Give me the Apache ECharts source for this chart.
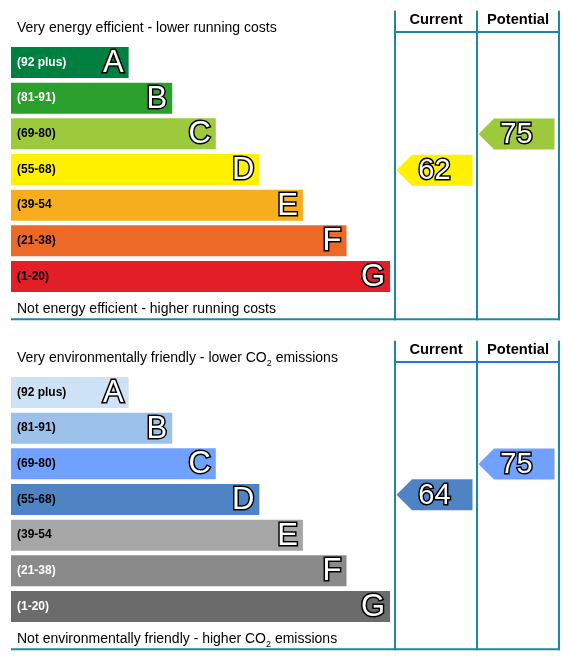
<!DOCTYPE html>
<html>
<head>
<meta charset="utf-8">
<title>Energy Efficiency Rating</title>
<script src="https://cdn.jsdelivr.net/npm/echarts@6/dist/echarts.min.js"></script>
<style>
    html, body { margin: 0; padding: 0; background: #fff; }
    #chart { width: 570px; height: 661px; }
</style>
</head>
<body>
<div id="chart"></div>
<script>
// bands, shared by both charts
var bands = ['A', 'B', 'C', 'D', 'E', 'F', 'G'];
var bandRanges = ['(92 plus)', '(81-91)', '(69-80)', '(55-68)', '(39-54', '(21-38)', '(1-20)'];
var bandMin = [92, 81, 69, 55, 39, 21, 1];
var bandLength = [27, 37, 47, 57, 67, 77, 87];
var columns = ['Current', 'Potential'];

// energy efficiency rating
var energyColors = ['#008040', '#2b9f2c', '#9cca3c', '#fff100', '#f6ae1f', '#ec6a25', '#e21e26'];
var energyTextColors = ['#fff', '#fff', '#000', '#000', '#000', '#000', '#000'];
var energyRatings = [62, 75];

// environmental impact (CO2) rating
var envColors = ['#cde2f5', '#9cc2ec', '#70a1fe', '#4f84c4', '#a6a6a6', '#8a8a8a', '#6b6b6b'];
var envTextColors = ['#000', '#000', '#000', '#000', '#000', '#fff', '#fff'];
var envRatings = [64, 75];

var titles = [
    ['Very energy efficient - lower running costs', 'Not energy efficient - higher running costs'],
    ['{n|Very environmentally friendly - lower CO}{s|2}{n| emissions}',
     '{n|Not environmentally friendly - higher CO}{s|2}{n| emissions}']
];

var FONT = 'Liberation Sans, Arial, Helvetica, sans-serif';
var FRAME = '#1d87a3';
var TOPS = [44.67, 374.67];
var H = 249.67;

function bandOf(r) {
    for (var i = 0; i < bandMin.length; i++) {
        if (r >= bandMin[i]) return i;
    }
    return bandMin.length - 1;
}

function arrowRenderer(colors) {
    return function (params, api) {
        var c = api.coord([api.value(0), api.value(1)]);
        var colW = api.size([1, 0])[0];
        var h = 31;
        var left = c[0] - colW / 2 + 1.5, right = left + 76;
        var top = c[1] - h / 2, bottom = c[1] + h / 2;
        return {
            type: 'group',
            children: [{
                type: 'polygon',
                shape: { points: [[left, c[1]], [left + h / 2, top], [right, top], [right, bottom], [left + h / 2, bottom]] },
                style: { fill: colors[bandOf(api.value(1))] }
            }, {
                type: 'text',
                style: {
                    text: String(api.value(1)), x: (left + right) / 2, y: c[1] + 1,
                    align: 'center', verticalAlign: 'middle',
                    fontSize: 29, fontFamily: FONT, fill: '#fff',
                    stroke: '#000', lineWidth: 3, strokeFirst: true
                },
                z2: 10
            }]
        };
    };
}

var grid = [], xAxis = [], yAxis = [], series = [], graphic = [];

[[energyColors, energyTextColors, energyRatings], [envColors, envTextColors, envRatings]].forEach(function (set, i) {
    var colors = set[0], textColors = set[1], ratings = set[2];
    var top = TOPS[i];
    var g0 = 2 * i, g1 = 2 * i + 1;

    grid.push({ left: 11, top: top, width: 549, height: H });
    grid.push({ left: 395, top: top, width: 164, height: H });

    xAxis.push({ gridIndex: g0, type: 'value', min: 0, max: 126, show: false });
    yAxis.push({ gridIndex: g0, type: 'category', data: bands, inverse: true, show: false });

    xAxis.push({
        gridIndex: g1, type: 'category', data: columns, position: 'top', offset: 12.67,
        axisLine: { show: false }, axisTick: { show: false }, splitLine: { show: false },
        axisLabel: { margin: 5, fontFamily: FONT, fontSize: 14.7, fontWeight: 'bold', color: '#000' }
    });
    yAxis.push({ gridIndex: g1, type: 'value', min: 17.35, max: 107.16, show: false });

    series.push({
        type: 'bar', xAxisIndex: g0, yAxisIndex: g0, barCategoryGap: '13%', silent: true,
        data: bandLength.map(function (v, k) {
            return { value: v, itemStyle: { color: colors[k] }, label: { color: textColors[k] } };
        }),
        label: {
            show: true, position: 'insideLeft', distance: 6,
            fontFamily: FONT, fontSize: 12, fontWeight: 'bold',
            formatter: function (p) { return bandRanges[p.dataIndex]; }
        }
    });
    series.push({
        type: 'bar', xAxisIndex: g0, yAxisIndex: g0, barCategoryGap: '13%', barGap: '-100%', silent: true,
        data: bandLength,
        itemStyle: { color: 'rgba(0,0,0,0)' },
        label: {
            show: true, position: 'insideRight', distance: 5, offset: [0, 1],
            fontFamily: FONT, fontSize: 31, color: '#fff',
            textBorderColor: '#000', textBorderWidth: 3,
            formatter: function (p) { return bands[p.dataIndex]; }
        }
    });
    series.push({
        type: 'custom', xAxisIndex: g1, yAxisIndex: g1, clip: false, silent: true,
        renderItem: arrowRenderer(colors),
        data: ratings.map(function (r, k) { return [k, r]; })
    });

    // frame
    var lineStyle = { stroke: FRAME, lineWidth: 2 };
    [395, 477, 559].forEach(function (x) {
        graphic.push({ type: 'line', shape: { x1: x, y1: top - 34, x2: x, y2: top + 275.6 }, style: lineStyle });
    });
    graphic.push({ type: 'line', shape: { x1: 395, y1: top - 12.67, x2: 559, y2: top - 12.67 }, style: lineStyle });
    graphic.push({ type: 'line', shape: { x1: 11, y1: top + 274.6, x2: 560, y2: top + 274.6 }, style: lineStyle });

    // captions
    var rich = {
        n: { fontFamily: FONT, fontSize: 14, color: '#000', lineHeight: 20 },
        s: { fontFamily: FONT, fontSize: 9, color: '#000', lineHeight: 10, verticalAlign: 'bottom' }
    };
    graphic.push({
        type: 'text', x: 17, y: top - 16.67,
        style: { text: titles[i][0], rich: rich, fontFamily: FONT, fontSize: 14, fill: '#000', verticalAlign: 'middle' }
    });
    graphic.push({
        type: 'text', x: 17, y: top + 264.8,
        style: { text: titles[i][1], rich: rich, fontFamily: FONT, fontSize: 14, fill: '#000', verticalAlign: 'middle' }
    });
});

var chart = echarts.init(document.getElementById('chart'));
chart.setOption({
    animation: false,
    grid: grid,
    xAxis: xAxis,
    yAxis: yAxis,
    series: series,
    graphic: graphic
});
</script>
</body>
</html>
